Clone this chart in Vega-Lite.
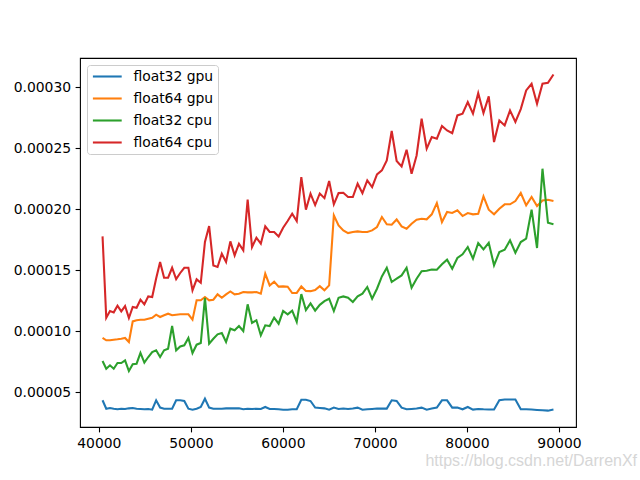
{
  "$schema": "https://vega.github.io/schema/vega-lite/v6.json",
  "width": 496,
  "height": 369,
  "autosize": {"type": "none"},
  "padding": {"left": 80, "top": 58, "right": 64, "bottom": 53},
  "background": "white",
  "config": {
    "view": {"stroke": "black", "strokeWidth": 1.1},
    "axis": {
      "domain": false, "grid": false, "title": null,
      "tickColor": "black", "tickSize": 4.9, "tickWidth": 1.1,
      "labelFont": "DejaVu Sans", "labelFontSize": 13.9, "labelColor": "black", "labelPadding": 4.5
    }
  },
  "title": {"text": "https://blog.csdn.net/DarrenXf", "orient": "bottom", "anchor": "end", "color": "#d6d6d6", "fontSize": 16, "font": "Liberation Sans", "fontWeight": "normal", "offset": 3, "dx": 56},
  "data": {"values": [
    {"x":40401,"float32 gpu":4.32e-5,"float64 gpu":9.43e-5,"float32 cpu":7.54e-5,"float64 cpu":17.76e-5},
    {"x":40804,"float32 gpu":3.63e-5,"float64 gpu":9.24e-5,"float32 cpu":6.91e-5,"float64 cpu":11.09e-5},
    {"x":41209,"float32 gpu":3.69e-5,"float64 gpu":9.24e-5,"float32 cpu":7.19e-5,"float64 cpu":11.64e-5},
    {"x":41616,"float32 gpu":3.63e-5,"float64 gpu":9.29e-5,"float32 cpu":6.91e-5,"float64 cpu":11.53e-5},
    {"x":42025,"float32 gpu":3.58e-5,"float64 gpu":9.32e-5,"float32 cpu":7.38e-5,"float64 cpu":12.08e-5},
    {"x":42436,"float32 gpu":3.63e-5,"float64 gpu":9.37e-5,"float32 cpu":7.38e-5,"float64 cpu":11.61e-5},
    {"x":42849,"float32 gpu":3.61e-5,"float64 gpu":9.43e-5,"float32 cpu":7.60e-5,"float64 cpu":12.05e-5},
    {"x":43264,"float32 gpu":3.66e-5,"float64 gpu":9.10e-5,"float32 cpu":6.72e-5,"float64 cpu":11.07e-5},
    {"x":43681,"float32 gpu":3.69e-5,"float64 gpu":10.79e-5,"float32 cpu":7.27e-5,"float64 cpu":11.97e-5},
    {"x":44100,"float32 gpu":3.63e-5,"float64 gpu":10.88e-5,"float32 cpu":7.32e-5,"float64 cpu":11.91e-5},
    {"x":44521,"float32 gpu":3.61e-5,"float64 gpu":10.93e-5,"float32 cpu":8.20e-5,"float64 cpu":12.57e-5},
    {"x":44944,"float32 gpu":3.58e-5,"float64 gpu":10.93e-5,"float32 cpu":7.41e-5,"float64 cpu":12.19e-5},
    {"x":45369,"float32 gpu":3.61e-5,"float64 gpu":11.01e-5,"float32 cpu":7.87e-5,"float64 cpu":12.84e-5},
    {"x":45796,"float32 gpu":3.55e-5,"float64 gpu":11.09e-5,"float32 cpu":8.28e-5,"float64 cpu":12.79e-5},
    {"x":46225,"float32 gpu":4.32e-5,"float64 gpu":11.34e-5,"float32 cpu":8.42e-5,"float64 cpu":14.30e-5},
    {"x":46656,"float32 gpu":3.72e-5,"float64 gpu":11.15e-5,"float32 cpu":7.87e-5,"float64 cpu":15.66e-5},
    {"x":47089,"float32 gpu":3.63e-5,"float64 gpu":11.29e-5,"float32 cpu":8.42e-5,"float64 cpu":14.37e-5},
    {"x":47524,"float32 gpu":3.63e-5,"float64 gpu":11.42e-5,"float32 cpu":8.55e-5,"float64 cpu":14.37e-5},
    {"x":47961,"float32 gpu":3.63e-5,"float64 gpu":11.29e-5,"float32 cpu":10.41e-5,"float64 cpu":15.19e-5},
    {"x":48400,"float32 gpu":4.32e-5,"float64 gpu":11.34e-5,"float32 cpu":8.42e-5,"float64 cpu":14.26e-5},
    {"x":48841,"float32 gpu":4.32e-5,"float64 gpu":11.37e-5,"float32 cpu":8.74e-5,"float64 cpu":14.76e-5},
    {"x":49284,"float32 gpu":4.26e-5,"float64 gpu":11.37e-5,"float32 cpu":8.83e-5,"float64 cpu":15.19e-5},
    {"x":49729,"float32 gpu":3.63e-5,"float64 gpu":11.37e-5,"float32 cpu":9.43e-5,"float64 cpu":15.19e-5},
    {"x":50176,"float32 gpu":3.55e-5,"float64 gpu":10.93e-5,"float32 cpu":8.20e-5,"float64 cpu":13.33e-5},
    {"x":50625,"float32 gpu":3.63e-5,"float64 gpu":12.52e-5,"float32 cpu":8.88e-5,"float64 cpu":14.24e-5},
    {"x":51076,"float32 gpu":3.77e-5,"float64 gpu":12.52e-5,"float32 cpu":9.02e-5,"float64 cpu":13.96e-5},
    {"x":51529,"float32 gpu":4.45e-5,"float64 gpu":12.79e-5,"float32 cpu":12.73e-5,"float64 cpu":17.30e-5},
    {"x":51984,"float32 gpu":3.72e-5,"float64 gpu":12.52e-5,"float32 cpu":8.96e-5,"float64 cpu":18.61e-5},
    {"x":52441,"float32 gpu":3.63e-5,"float64 gpu":12.57e-5,"float32 cpu":9.37e-5,"float64 cpu":15.38e-5},
    {"x":52900,"float32 gpu":3.63e-5,"float64 gpu":13.01e-5,"float32 cpu":9.73e-5,"float64 cpu":15.25e-5},
    {"x":53361,"float32 gpu":3.63e-5,"float64 gpu":12.73e-5,"float32 cpu":9.84e-5,"float64 cpu":16.34e-5},
    {"x":53824,"float32 gpu":3.66e-5,"float64 gpu":13.01e-5,"float32 cpu":9.10e-5,"float64 cpu":15.66e-5},
    {"x":54289,"float32 gpu":3.66e-5,"float64 gpu":13.25e-5,"float32 cpu":10.19e-5,"float64 cpu":17.35e-5},
    {"x":54756,"float32 gpu":3.66e-5,"float64 gpu":13.01e-5,"float32 cpu":10.06e-5,"float64 cpu":16.20e-5},
    {"x":55225,"float32 gpu":3.66e-5,"float64 gpu":13.06e-5,"float32 cpu":10.41e-5,"float64 cpu":17.16e-5},
    {"x":55696,"float32 gpu":3.58e-5,"float64 gpu":13.20e-5,"float32 cpu":10.00e-5,"float64 cpu":16.61e-5},
    {"x":56169,"float32 gpu":3.63e-5,"float64 gpu":13.17e-5,"float32 cpu":12.19e-5,"float64 cpu":20.77e-5},
    {"x":56644,"float32 gpu":3.61e-5,"float64 gpu":13.17e-5,"float32 cpu":10.66e-5,"float64 cpu":16.89e-5},
    {"x":57121,"float32 gpu":3.63e-5,"float64 gpu":13.20e-5,"float32 cpu":10.88e-5,"float64 cpu":17.65e-5},
    {"x":57600,"float32 gpu":3.61e-5,"float64 gpu":13.06e-5,"float32 cpu":9.65e-5,"float64 cpu":17.16e-5},
    {"x":58081,"float32 gpu":3.77e-5,"float64 gpu":14.70e-5,"float32 cpu":10.47e-5,"float64 cpu":18.58e-5},
    {"x":58564,"float32 gpu":3.61e-5,"float64 gpu":13.74e-5,"float32 cpu":10.41e-5,"float64 cpu":18.12e-5},
    {"x":59049,"float32 gpu":3.61e-5,"float64 gpu":14.05e-5,"float32 cpu":11.10e-5,"float64 cpu":18.12e-5},
    {"x":59536,"float32 gpu":3.58e-5,"float64 gpu":13.64e-5,"float32 cpu":10.60e-5,"float64 cpu":17.76e-5},
    {"x":60025,"float32 gpu":3.55e-5,"float64 gpu":13.66e-5,"float32 cpu":11.64e-5,"float64 cpu":18.47e-5},
    {"x":60516,"float32 gpu":3.55e-5,"float64 gpu":13.64e-5,"float32 cpu":11.37e-5,"float64 cpu":19.02e-5},
    {"x":61009,"float32 gpu":3.58e-5,"float64 gpu":13.12e-5,"float32 cpu":11.67e-5,"float64 cpu":19.62e-5},
    {"x":61504,"float32 gpu":3.58e-5,"float64 gpu":13.13e-5,"float32 cpu":10.74e-5,"float64 cpu":19.02e-5},
    {"x":62001,"float32 gpu":4.37e-5,"float64 gpu":13.66e-5,"float32 cpu":13.03e-5,"float64 cpu":22.62e-5},
    {"x":62500,"float32 gpu":4.37e-5,"float64 gpu":13.28e-5,"float32 cpu":11.72e-5,"float64 cpu":19.95e-5},
    {"x":63001,"float32 gpu":4.26e-5,"float64 gpu":13.27e-5,"float32 cpu":12.27e-5,"float64 cpu":21.26e-5},
    {"x":63504,"float32 gpu":3.72e-5,"float64 gpu":13.36e-5,"float32 cpu":11.67e-5,"float64 cpu":20.33e-5},
    {"x":64009,"float32 gpu":3.69e-5,"float64 gpu":13.68e-5,"float32 cpu":12.15e-5,"float64 cpu":21.28e-5},
    {"x":64516,"float32 gpu":3.66e-5,"float64 gpu":13.34e-5,"float32 cpu":12.45e-5,"float64 cpu":20.90e-5},
    {"x":65025,"float32 gpu":3.55e-5,"float64 gpu":13.74e-5,"float32 cpu":12.65e-5,"float64 cpu":22.30e-5},
    {"x":65536,"float32 gpu":3.72e-5,"float64 gpu":19.48e-5,"float32 cpu":11.64e-5,"float64 cpu":20.39e-5},
    {"x":66049,"float32 gpu":3.61e-5,"float64 gpu":18.66e-5,"float32 cpu":12.73e-5,"float64 cpu":21.31e-5},
    {"x":66564,"float32 gpu":3.64e-5,"float64 gpu":18.25e-5,"float32 cpu":12.84e-5,"float64 cpu":21.34e-5},
    {"x":67081,"float32 gpu":3.61e-5,"float64 gpu":18.03e-5,"float32 cpu":12.73e-5,"float64 cpu":20.99e-5},
    {"x":67600,"float32 gpu":3.64e-5,"float64 gpu":18.12e-5,"float32 cpu":12.38e-5,"float64 cpu":20.99e-5},
    {"x":68121,"float32 gpu":3.72e-5,"float64 gpu":18.17e-5,"float32 cpu":12.84e-5,"float64 cpu":22.08e-5},
    {"x":68644,"float32 gpu":3.55e-5,"float64 gpu":18.12e-5,"float32 cpu":13.06e-5,"float64 cpu":21.31e-5},
    {"x":69169,"float32 gpu":3.58e-5,"float64 gpu":18.12e-5,"float32 cpu":13.61e-5,"float64 cpu":22.35e-5},
    {"x":69696,"float32 gpu":3.61e-5,"float64 gpu":18.25e-5,"float32 cpu":12.65e-5,"float64 cpu":21.81e-5},
    {"x":70225,"float32 gpu":3.64e-5,"float64 gpu":18.53e-5,"float32 cpu":13.47e-5,"float64 cpu":22.85e-5},
    {"x":70756,"float32 gpu":3.64e-5,"float64 gpu":19.35e-5,"float32 cpu":14.48e-5,"float64 cpu":23.17e-5},
    {"x":71289,"float32 gpu":3.64e-5,"float64 gpu":18.75e-5,"float32 cpu":15.19e-5,"float64 cpu":23.99e-5},
    {"x":71824,"float32 gpu":4.32e-5,"float64 gpu":18.72e-5,"float32 cpu":14.02e-5,"float64 cpu":26.40e-5},
    {"x":72361,"float32 gpu":4.27e-5,"float64 gpu":19.15e-5,"float32 cpu":14.29e-5,"float64 cpu":23.94e-5},
    {"x":72900,"float32 gpu":3.72e-5,"float64 gpu":18.58e-5,"float32 cpu":14.56e-5,"float64 cpu":23.50e-5},
    {"x":73441,"float32 gpu":3.58e-5,"float64 gpu":18.39e-5,"float32 cpu":15.19e-5,"float64 cpu":24.87e-5},
    {"x":73984,"float32 gpu":3.61e-5,"float64 gpu":18.80e-5,"float32 cpu":13.55e-5,"float64 cpu":22.90e-5},
    {"x":74529,"float32 gpu":3.64e-5,"float64 gpu":19.13e-5,"float32 cpu":14.29e-5,"float64 cpu":24.40e-5},
    {"x":75076,"float32 gpu":3.72e-5,"float64 gpu":19.21e-5,"float32 cpu":14.90e-5,"float64 cpu":27.41e-5},
    {"x":75625,"float32 gpu":3.55e-5,"float64 gpu":19.16e-5,"float32 cpu":14.95e-5,"float64 cpu":24.95e-5},
    {"x":76176,"float32 gpu":3.64e-5,"float64 gpu":19.57e-5,"float32 cpu":15.05e-5,"float64 cpu":25.91e-5},
    {"x":76729,"float32 gpu":3.72e-5,"float64 gpu":20.50e-5,"float32 cpu":15.03e-5,"float64 cpu":25.77e-5},
    {"x":77284,"float32 gpu":4.32e-5,"float64 gpu":18.94e-5,"float32 cpu":15.47e-5,"float64 cpu":26.81e-5},
    {"x":77841,"float32 gpu":4.32e-5,"float64 gpu":19.76e-5,"float32 cpu":15.85e-5,"float64 cpu":26.45e-5},
    {"x":78400,"float32 gpu":3.72e-5,"float64 gpu":19.68e-5,"float32 cpu":15.11e-5,"float64 cpu":26.23e-5},
    {"x":78961,"float32 gpu":3.72e-5,"float64 gpu":19.90e-5,"float32 cpu":15.99e-5,"float64 cpu":27.68e-5},
    {"x":79524,"float32 gpu":3.58e-5,"float64 gpu":19.43e-5,"float32 cpu":16.29e-5,"float64 cpu":27.82e-5},
    {"x":80089,"float32 gpu":3.77e-5,"float64 gpu":19.68e-5,"float32 cpu":16.89e-5,"float64 cpu":28.77e-5},
    {"x":80656,"float32 gpu":3.56e-5,"float64 gpu":19.57e-5,"float32 cpu":15.93e-5,"float64 cpu":27.82e-5},
    {"x":81225,"float32 gpu":3.61e-5,"float64 gpu":19.62e-5,"float32 cpu":17.22e-5,"float64 cpu":29.51e-5},
    {"x":81796,"float32 gpu":3.58e-5,"float64 gpu":21.04e-5,"float32 cpu":16.70e-5,"float64 cpu":27.87e-5},
    {"x":82369,"float32 gpu":3.56e-5,"float64 gpu":19.95e-5,"float32 cpu":17.24e-5,"float64 cpu":29.24e-5},
    {"x":82944,"float32 gpu":3.56e-5,"float64 gpu":19.57e-5,"float32 cpu":15.39e-5,"float64 cpu":25.50e-5},
    {"x":83521,"float32 gpu":4.32e-5,"float64 gpu":20.03e-5,"float32 cpu":16.48e-5,"float64 cpu":27.27e-5},
    {"x":84100,"float32 gpu":4.38e-5,"float64 gpu":20.39e-5,"float32 cpu":16.67e-5,"float64 cpu":26.86e-5},
    {"x":84681,"float32 gpu":4.38e-5,"float64 gpu":20.39e-5,"float32 cpu":17.44e-5,"float64 cpu":28.09e-5},
    {"x":85264,"float32 gpu":4.38e-5,"float64 gpu":20.66e-5,"float32 cpu":16.42e-5,"float64 cpu":27.14e-5},
    {"x":85849,"float32 gpu":3.58e-5,"float64 gpu":21.32e-5,"float32 cpu":17.30e-5,"float64 cpu":28.20e-5},
    {"x":86436,"float32 gpu":3.58e-5,"float64 gpu":20.31e-5,"float32 cpu":17.57e-5,"float64 cpu":29.73e-5},
    {"x":87025,"float32 gpu":3.56e-5,"float64 gpu":20.99e-5,"float32 cpu":19.95e-5,"float64 cpu":30.28e-5},
    {"x":87616,"float32 gpu":3.53e-5,"float64 gpu":20.25e-5,"float32 cpu":16.81e-5,"float64 cpu":28.64e-5},
    {"x":88209,"float32 gpu":3.50e-5,"float64 gpu":20.71e-5,"float32 cpu":23.31e-5,"float64 cpu":30.28e-5},
    {"x":88804,"float32 gpu":3.47e-5,"float64 gpu":20.77e-5,"float32 cpu":18.88e-5,"float64 cpu":30.36e-5},
    {"x":89401,"float32 gpu":3.56e-5,"float64 gpu":20.66e-5,"float32 cpu":18.75e-5,"float64 cpu":31.04e-5}
  ]},
  "transform": [
    {"fold": ["float32 gpu", "float64 gpu", "float32 cpu", "float64 cpu"], "as": ["series", "value"]}
  ],
  "mark": {"type": "line", "strokeWidth": 2.08, "clip": true},
  "encoding": {
    "x": {
      "field": "x", "type": "quantitative",
      "scale": {"domain": [37951, 91851], "nice": false, "zero": false},
      "axis": {"values": [40000, 50000, 60000, 70000, 80000, 90000], "format": "d"}
    },
    "y": {
      "field": "value", "type": "quantitative",
      "scale": {"domain": [0.0000213, 0.0003239], "nice": false, "zero": false},
      "axis": {"values": [0.00005, 0.0001, 0.00015, 0.0002, 0.00025, 0.0003], "format": ".5f"}
    },
    "color": {
      "field": "series", "type": "nominal",
      "scale": {"domain": ["float32 gpu", "float64 gpu", "float32 cpu", "float64 cpu"], "range": ["#1f77b4", "#ff7f0e", "#2ca02c", "#d62728"]},
      "legend": {
        "title": null, "orient": "none", "legendX": 7, "legendY": 7,
        "symbolType": "M-2.4,0H2.4", "symbolSize": 144, "symbolStrokeWidth": 2.08, "symbolOffset": 8.8,
        "labelFont": "DejaVu Sans", "labelFontSize": 13.9, "labelColor": "black", "labelOffset": 18.6,
        "fillColor": "white", "strokeColor": "#cccccc", "cornerRadius": 3, "padding": 4, "rowPadding": 7
      }
    },
    "order": {"field": "series"}
  }
}
